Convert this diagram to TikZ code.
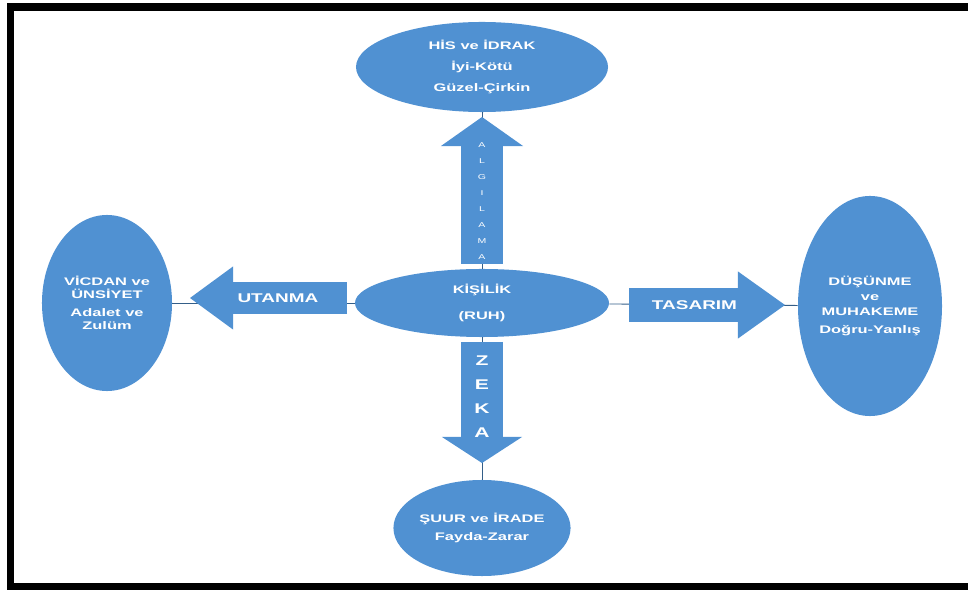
\documentclass[tikz,border=0pt]{standalone}
\usepackage{fontspec}
\setmainfont{Liberation Sans}
\newfontfamily\genis[FakeStretch=1.5]{Liberation Sans}
\usetikzlibrary{shapes.geometric,arrows.meta}
\definecolor{mavi}{RGB}{80,145,210}

\begin{document}
\begin{tikzpicture}[x=0.025cm,y=-0.025cm,
	elips/.style={ellipse,fill=mavi,inner sep=0pt,text=white,align=center,font=\genis\bfseries\fontsize{7.8}{#1}\selectfont},
	ince/.style={mavi!65!black,line width=0.6pt},
	blok/.style={mavi,line width=#1},
	yazi/.style={text=white,align=center,font=\genis\bfseries\fontsize{9}{11}\selectfont}]
			\useasboundingbox (0,0) rectangle (968,590);
			\draw[line width=0.19cm] (968,7) -- (10.5,7) -- (10.5,587) -- (968,587);
			% elipsler
			\node[elips=18.5, minimum width=6.35cm, minimum height=1.7cm] (kisilik) at (482,303) {KİŞİLİK\\(RUH)};
			\node[elips=15, minimum width=6.3cm, minimum height=2.25cm] (his) at (482,67) {HİS ve İDRAK\\İyi-Kötü\\Güzel-Çirkin};
			\node[elips=9.5, minimum width=3.25cm, minimum height=4.4cm] (vicdan) at (107,303) {VİCDAN ve\\ÜNSİYET\\[3pt]Adalet ve\\Zulüm};
			\node[elips=10.7, minimum width=3.6cm, minimum height=5.5cm] (dusunme) at (870,306) {DÜŞÜNME\\ve\\MUHAKEME\\[2pt]Doğru-Yanlış};
			\node[elips=12.8, minimum width=4.4cm, minimum height=2.4cm] (suur) at (482,528) {ŞUUR ve İRADE\\Fayda-Zarar};
			% ince baglantilar
			\draw[ince] (kisilik) -- (his);
			\draw[ince] (kisilik) -- (suur);
			\draw[ince] (kisilik) -- (vicdan);
			\draw[ince] (kisilik) -- (dusunme);
			% blok oklar
			\coordinate (algA) at (482,264);
			\coordinate (algU) at (482,117);
			\coordinate (zekaA) at (482,342);
			\coordinate (zekaU) at (482,463);
			\coordinate (utA) at (347,298);
			\coordinate (utU) at (190,298);
			\coordinate (tasA) at (629,305);
			\coordinate (tasU) at (785,305);
			\draw[blok=1.05cm, -{Triangle[length=0.725cm,width=2.05cm,line width=0pt]}] (algA) -- (algU)
				node[pos=0.43, text=white, align=center, font=\genis\fontsize{5}{11.4}\selectfont] (alg) {A\\L\\G\\I\\L\\A\\M\\A};
			\draw[blok=1.03cm, -{Triangle[length=0.65cm,width=2cm,line width=0pt]}] (zekaA) -- (zekaU)
				node[pos=0.45, yazi, font=\genis\bfseries\fontsize{10}{17}\selectfont] (zeka) {Z\\E\\K\\A};
			\draw[blok=0.78cm, -{Triangle[length=1.075cm,width=1.575cm,line width=0pt]}] (utA) -- (utU)
				node[pos=0.44, yazi] (utanma) {UTANMA};
			\draw[blok=0.85cm, -{Triangle[length=1.175cm,width=1.675cm,line width=0pt]}] (tasA) -- (tasU)
				node[pos=0.42, yazi] (tasarim) {TASARIM};
			\end{tikzpicture}
\end{document}
